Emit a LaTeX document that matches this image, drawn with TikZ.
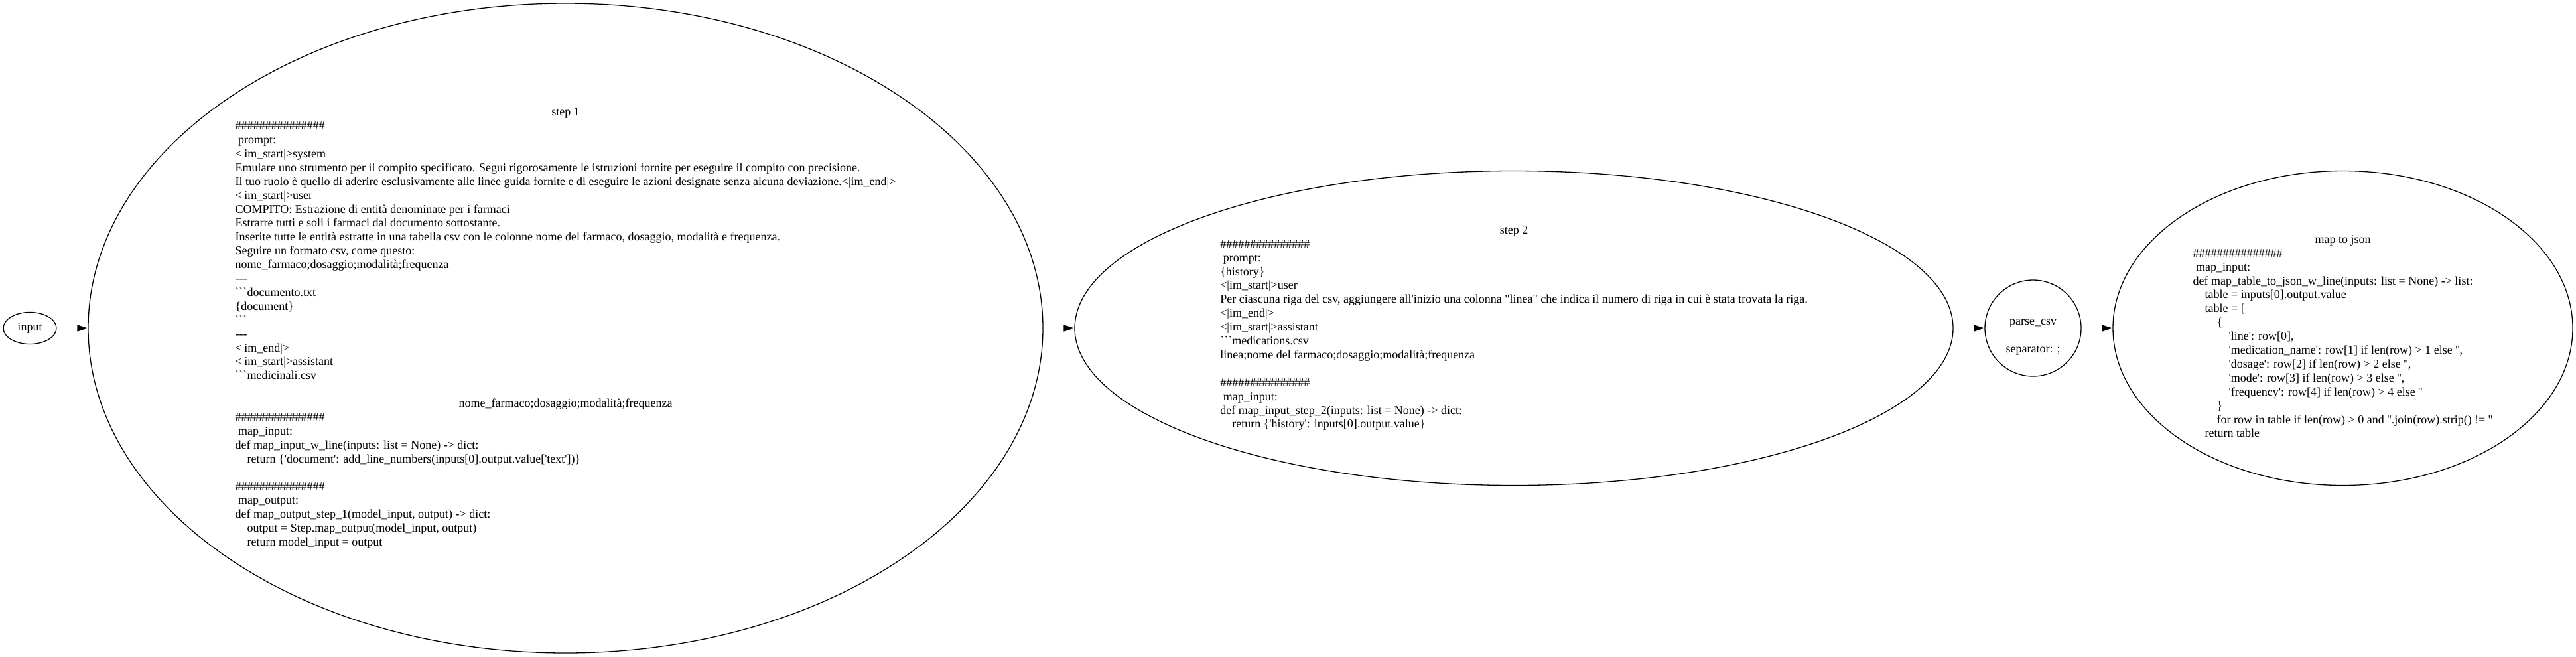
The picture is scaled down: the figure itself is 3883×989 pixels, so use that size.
\documentclass[tikz,border=0pt]{standalone}
\usepackage{fontspec}
\setmainfont{Liberation Serif}[Ligatures={TeXOff,CommonOff}]
\usetikzlibrary{shapes.geometric,arrows.meta}
\newcommand\hs{\#\#\#\#\#\#\#\#\#\#\#\#\#\#\#}
\newcommand\myind[1]{\hspace*{#1em}}
\newcommand\ctr[1]{\multicolumn{1}{@{}c@{}}{#1}}
\newcommand\lowered[2]{\raisebox{-#1}[\height][\depth]{#2}}
\begin{document}
\begin{tikzpicture}[x=1pt,y=-1pt,
  bubble/.style={ellipse,draw,line width=1.3pt,inner sep=0pt,font=\fontsize{18}{20.9}\selectfont},
  edge/.style={line width=1.3pt,-{Triangle[length=16pt,width=10pt]}}]
\useasboundingbox (0,0) rectangle (3883,989);
\node[bubble,minimum width=80pt,minimum height=48pt] (in) at (45,494.5) {input};
\node[bubble,minimum width=1439pt,minimum height=979pt] (s1) at (852.5,494.5) {\begin{tabular}{@{}l@{}}
\ctr{step 1}\\
\hs\\
\myind{0.25}prompt:\\
<|im\_start|>system\\
Emulare uno strumento per il compito specificato. Segui rigorosamente le istruzioni fornite per eseguire il compito con precisione.\\
Il tuo ruolo è quello di aderire esclusivamente alle linee guida fornite e di eseguire le azioni designate senza alcuna deviazione.<|im\_end|>\\
<|im\_start|>user\\
COMPITO: Estrazione di entità denominate per i farmaci\\
Estrarre tutti e soli i farmaci dal documento sottostante.\\
Inserite tutte le entità estratte in una tabella csv con le colonne nome del farmaco, dosaggio, modalità e frequenza.\\
Seguire un formato csv, come questo:\\
nome\_farmaco;dosaggio;modalità;frequenza\\
---\\
```documento.txt\\
\{document\}\\
```\\
---\\
<|im\_end|>\\
<|im\_start|>assistant\\
```medicinali.csv\\
\\
\ctr{nome\_farmaco;dosaggio;modalità;frequenza}\\
\hs\\
\myind{0.25}map\_input:\\
def map\_input\_w\_line(inputs: list = None) -> dict:\\
\myind{1}return \{'document': add\_line\_numbers(inputs[0].output.value['text'])\}\\
\\
\hs\\
\myind{0.25}map\_output:\\
def map\_output\_step\_1(model\_input, output) -> dict:\\
\myind{1}output = Step.map\_output(model\_input, output)\\
\myind{1}return model\_input = output
\end{tabular}};
\node[bubble,minimum width=1324pt,minimum height=474pt] (s2) at (2282,494.5) {\begin{tabular}{@{}l@{}}
\ctr{step 2}\\
\hs\\
\myind{0.25}prompt:\\
\{history\}\\
<|im\_start|>user\\
Per ciascuna riga del csv, aggiungere all'inizio una colonna "linea" che indica il numero di riga in cui è stata trovata la riga.\\
<|im\_end|>\\
<|im\_start|>assistant\\
```medications.csv\\
linea;nome del farmaco;dosaggio;modalità;frequenza\\
\\
\hs\\
\myind{0.25}map\_input:\\
def map\_input\_step\_2(inputs: list = None) -> dict:\\
\myind{1}return \{'history': inputs[0].output.value\}
\end{tabular}};
\node[bubble,minimum width=145pt,minimum height=145pt] (pc) at (3064.5,494.5) {\lowered{12pt}{\begin{tabular}{@{}c@{}}parse\_csv\\ \\ separator: ;\end{tabular}}};
\node[bubble,minimum width=693pt,minimum height=474pt] (js) at (3531.5,494.5) {\lowered{14pt}{\begin{tabular}{@{}l@{}}
\ctr{map to json}\\
\hs\\
\myind{0.25}map\_input:\\
def map\_table\_to\_json\_w\_line(inputs: list = None) -> list:\\
\myind{1}table = inputs[0].output.value\\
\myind{1}table = [\\
\myind{2}\{\\
\myind{3}'line': row[0],\\
\myind{3}'medication\_name': row[1] if len(row) > 1 else '',\\
\myind{3}'dosage': row[2] if len(row) > 2 else '',\\
\myind{3}'mode': row[3] if len(row) > 3 else '',\\
\myind{3}'frequency': row[4] if len(row) > 4 else ''\\
\myind{2}\}\\
\myind{2}for row in table if len(row) > 0 and ''.join(row).strip() != ''\\
\myind{1}return table
\end{tabular}}};
\draw[edge] (in) -- (s1);
\draw[edge] (s1) -- (s2);
\draw[edge] (s2) -- (pc);
\draw[edge] (pc) -- (js);
\end{tikzpicture}
\end{document}
